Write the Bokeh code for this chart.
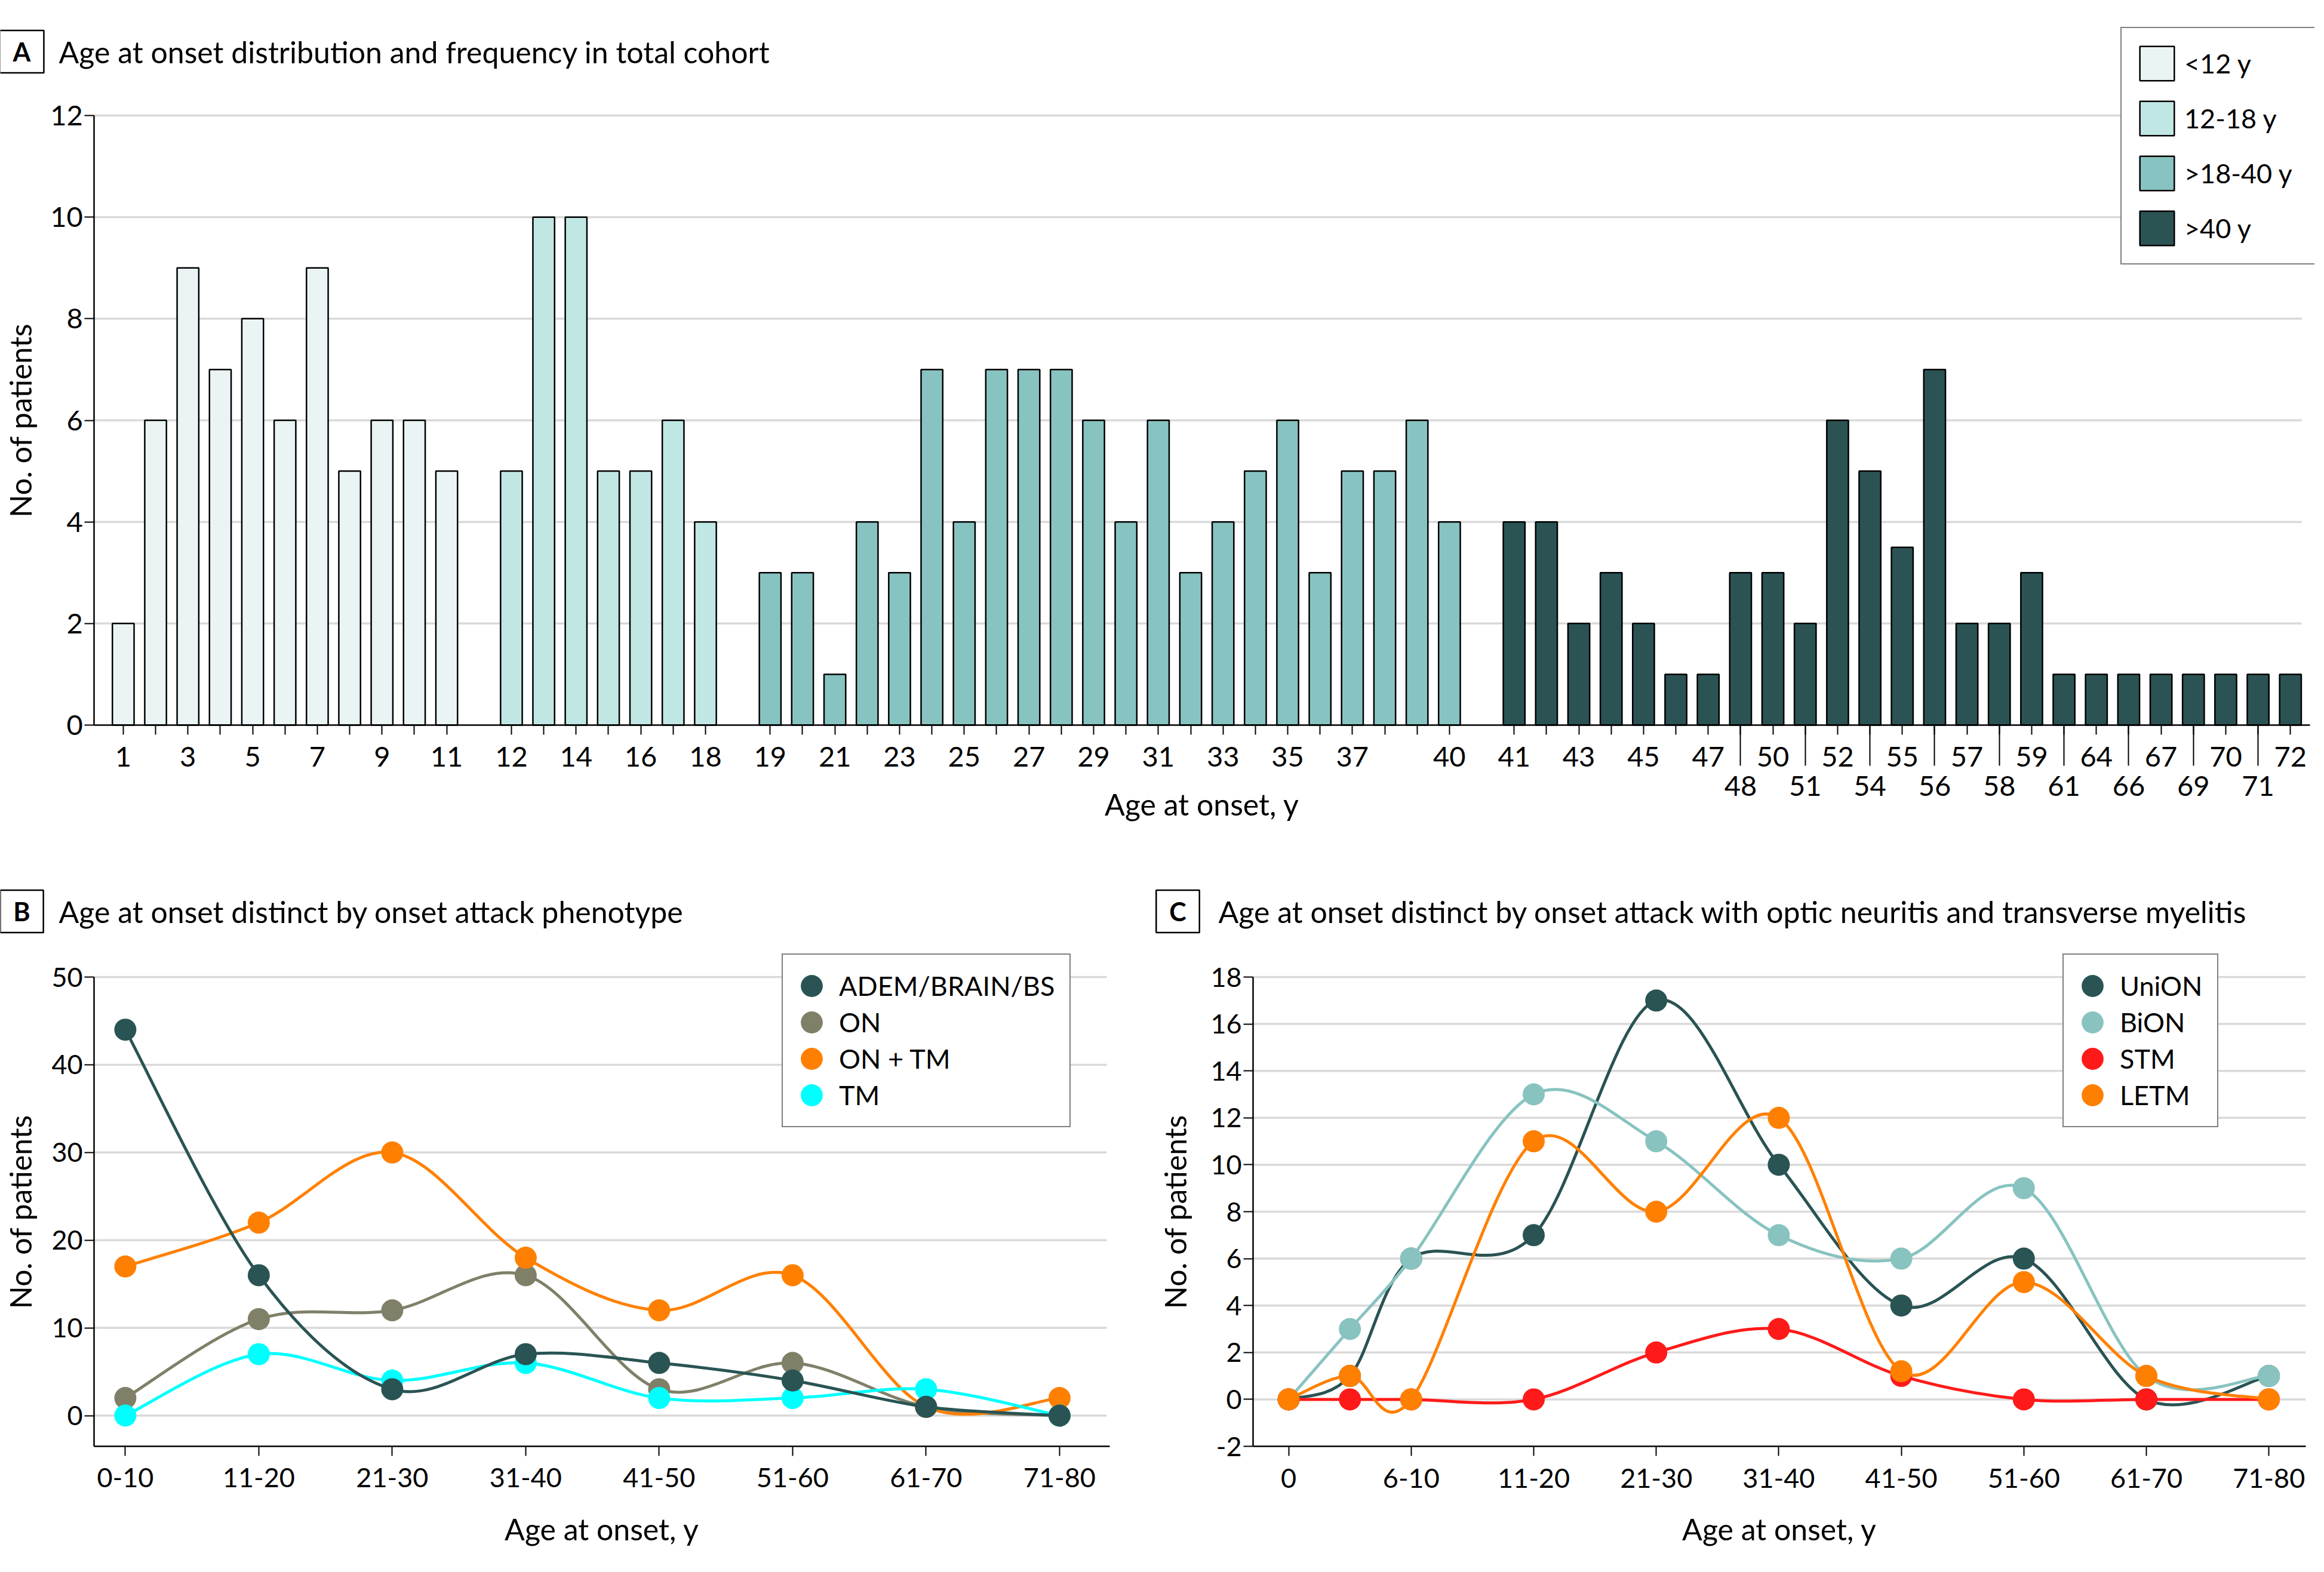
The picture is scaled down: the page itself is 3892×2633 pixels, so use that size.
from bokeh.plotting import figure
from bokeh.models import Range1d, FixedTicker, LinearAxis, Legend, LegendItem, Label
from bokeh.layouts import column, row
from bokeh.embed import file_html
from bokeh.resources import INLINE

FONT = "Lato"

# ---------------- Panel A data ----------------
group_names = ["<12 y", "12-18 y", ">18-40 y", ">40 y"]
group_colors = ["#eaf4f4", "#c1e7e5", "#87c3c1", "#2b5354"]
ages_lt12 = [1, 2, 3, 4, 5, 6, 7, 8, 9, 10, 11]
counts_lt12 = [2, 6, 9, 7, 8, 6, 9, 5, 6, 6, 5]
ages_12_18 = [12, 13, 14, 15, 16, 17, 18]
counts_12_18 = [5, 10, 10, 5, 5, 6, 4]
ages_18_40 = [19, 20, 21, 22, 23, 24, 25, 26, 27, 28, 29, 30, 31, 32, 33, 34, 35, 36, 37, 38, 39, 40]
counts_18_40 = [3, 3, 1, 4, 3, 7, 4, 7, 7, 7, 6, 4, 6, 3, 4, 5, 6, 3, 5, 5, 6, 4]
ages_gt40 = [41, 42, 43, 44, 45, 46, 47, 48, 50, 51, 52, 54, 55, 56, 57, 58, 59, 61, 64, 66, 67, 69, 70, 71, 72]
counts_gt40 = [4, 4, 2, 3, 2, 1, 1, 3, 3, 2, 6, 5, 3.5, 7, 2, 2, 3, 1, 1, 1, 1, 1, 1, 1, 1]
top_row_ages = [1, 3, 5, 7, 9, 11, 12, 14, 16, 18, 19, 21, 23, 25, 27, 29, 31, 33, 35, 37, 40,
                41, 43, 45, 47, 50, 52, 55, 57, 59, 64, 67, 70, 72]
bottom_row_ages = [48, 51, 54, 56, 58, 61, 66, 69, 71]
a_yticks = [0, 2, 4, 6, 8, 10, 12]

# ---------------- Panel B data ----------------
b_labels = ["0-10", "11-20", "21-30", "31-40", "41-50", "51-60", "61-70", "71-80"]
b_adem = [44, 16, 3, 7, 6, 4, 1, 0]
b_on = [2, 11, 12, 16, 3, 6, 1, 0]
b_ontm = [17, 22, 30, 18, 12, 16, 1, 2]
b_tm = [0, 7, 4, 6, 2, 2, 3, 0]
b_yticks = [0, 10, 20, 30, 40, 50]

# ---------------- Panel C data ----------------
c_x = [0, 0.5, 1, 2, 3, 4, 5, 6, 7, 8]
c_tick_pos = [0, 1, 2, 3, 4, 5, 6, 7, 8]
c_tick_labels = ["0", "6-10", "11-20", "21-30", "31-40", "41-50", "51-60", "61-70", "71-80"]
c_union = [0, 1, 6, 7, 17, 10, 4, 6, 0, 1]
c_bion = [0, 3, 6, 13, 11, 7, 6, 9, 1, 1]
c_stm = [0, 0, 0, 0, 2, 3, 1, 0, 0, 0]
c_letm = [0, 1, 0, 11, 8, 12, 1.2, 5, 1, 0]
c_yticks = [-2, 0, 2, 4, 6, 8, 10, 12, 14, 16, 18]

GRID = "#d9d9d9"


def style_axis(ax, tick_size, label_size):
    ax.axis_line_color = "black"
    ax.axis_line_width = 2.5
    ax.major_tick_line_color = "black"
    ax.major_tick_line_width = 2
    ax.minor_tick_line_color = None
    ax.major_label_text_font = FONT
    ax.major_label_text_font_size = f"{tick_size}px"
    ax.major_label_text_color = "black"
    ax.axis_label_text_font = FONT
    ax.axis_label_text_font_size = f"{label_size}px"
    ax.axis_label_text_font_style = "normal"
    ax.axis_label_text_color = "black"


def panel_title(p, letter, text, box_x, text_x, y, size):
    p.add_layout(Label(x=box_x, y=y, x_units="screen", y_units="screen", text=letter,
                       text_font=FONT, text_font_size="43px", text_font_style="bold",
                       text_align="center", text_baseline="middle", text_color="black",
                       border_line_color="black", border_line_width=2.5,
                       background_fill_color="white", padding=(22, 10)))
    p.add_layout(Label(x=text_x, y=y, x_units="screen", y_units="screen", text=text,
                       text_font=FONT, text_font_size=size, text_align="left",
                       text_baseline="middle", text_color="black"))


def catmull_rom(xs, ys):
    n = len(xs)
    d = dict(x0=[], y0=[], x1=[], y1=[], cx0=[], cy0=[], cx1=[], cy1=[])
    for i in range(n - 1):
        xp, yp = (xs[i - 1], ys[i - 1]) if i > 0 else (xs[i], ys[i])
        xn, yn = (xs[i + 2], ys[i + 2]) if i + 2 < n else (xs[i + 1], ys[i + 1])
        d["x0"].append(xs[i]); d["y0"].append(ys[i])
        d["x1"].append(xs[i + 1]); d["y1"].append(ys[i + 1])
        d["cx0"].append(xs[i] + (xs[i + 1] - xp) / 6.0)
        d["cy0"].append(ys[i] + (ys[i + 1] - yp) / 6.0)
        d["cx1"].append(xs[i + 1] - (xn - xs[i]) / 6.0)
        d["cy1"].append(ys[i + 1] - (yn - ys[i]) / 6.0)
    return d


def make_fig(width, height, x0_px, x_unit_px, y0_px, y_unit_px):
    """Figure whose frame fills the whole canvas; x0_px/y0_px = pixel position
    (from left / from top of the figure) of data value 0."""
    xr = Range1d(-x0_px / x_unit_px, (width - x0_px) / x_unit_px)
    yr = Range1d(-(height - y0_px) / y_unit_px, y0_px / y_unit_px)
    p = figure(width=width, height=height, x_range=xr, y_range=yr,
               output_backend="svg", toolbar_location=None,
               min_border_left=0, min_border_right=0, min_border_top=0, min_border_bottom=0)
    p.outline_line_color = None
    p.background_fill_color = "white"
    p.border_fill_color = "white"
    p.xgrid.visible = False
    p.ygrid.visible = False
    return p


def grid_lines(p, ticks, x_start, x_end, width):
    p.segment(x0=[x_start] * len(ticks), x1=[x_end] * len(ticks), y0=ticks, y1=ticks,
              line_color=GRID, line_width=width, level="underlay")


# ================= Panel A =================
ages_groups = [ages_lt12, ages_12_18, ages_18_40, ages_gt40]
count_groups = [counts_lt12, counts_12_18, counts_18_40, counts_gt40]
pos_groups = []
cursor = 0
for ages in ages_groups:
    pos_groups.append(list(range(cursor, cursor + len(ages))))
    cursor += len(ages) + 1
age_to_pos = {a: ps for ages, pss in zip(ages_groups, pos_groups) for a, ps in zip(ages, pss)}
all_pos = [ps for pss in pos_groups for ps in pss]

pA = make_fig(3876, 1448, 205.9, 54.17, 1214, 85.08)
a_xmin, a_xmax = -0.9, 67.6
grid_lines(pA, a_yticks[1:], a_xmin, 67.35, 3.5)

a_items = []
for name, color, pss, counts in zip(group_names, group_colors, pos_groups, count_groups):
    r = pA.vbar(x=pss, top=counts, bottom=0, width=0.67, fill_color=color,
                line_color="black", line_width=2.5)
    a_items.append(LegendItem(label=name, renderers=[r]))

pA.xaxis.visible = False
ax1 = LinearAxis(ticker=FixedTicker(ticks=all_pos), fixed_location=0, bounds=(a_xmin, a_xmax),
                 major_label_overrides={age_to_pos[a]: (str(a) if a in top_row_ages else "")
                                        for a in age_to_pos})
style_axis(ax1, 47, 50)
ax1.major_tick_out = 16
ax1.major_tick_in = 0
ax1.major_label_standoff = 20
pA.add_layout(ax1, "below")

ax2 = LinearAxis(ticker=FixedTicker(ticks=[age_to_pos[a] for a in bottom_row_ages]),
                 fixed_location=0, bounds=(a_xmin, a_xmax),
                 major_label_overrides={age_to_pos[a]: str(a) for a in bottom_row_ages},
                 axis_label="Age at onset, y")
style_axis(ax2, 47, 50)
ax2.axis_line_color = None
ax2.major_tick_in = 0
ax2.major_tick_out = 68
ax2.major_label_standoff = 17
ax2.axis_label_standoff = -19
pA.add_layout(ax2, "below")

ya = pA.yaxis[0]
style_axis(ya, 47, 50)
ya.fixed_location = a_xmin
ya.bounds = (0, 12)
ya.ticker = FixedTicker(ticks=a_yticks)
ya.major_tick_out = 16
ya.major_tick_in = 0
ya.major_label_standoff = 3
ya.axis_label = "No. of patients"
ya.axis_label_standoff = 17

legA = Legend(items=a_items, location=(3551, 1005), glyph_width=72, glyph_height=72,
              spacing=20, padding=23, label_standoff=10, label_width=197,
              label_text_font=FONT, label_text_font_size="45px", label_text_color="black",
              border_line_color="black", border_line_width=2.5,
              background_fill_color="white", background_fill_alpha=1, margin=0)
pA.add_layout(legA)
panel_title(pA, "A", "Age at onset distribution and frequency in total cohort", 36, 98, 1362, "50px")


# ================= Panels B / C helpers =================
def style_line_axes(p, x_at, y_at, xb, yb, xticks, xlabels, yticks, ylab_standoff):
    xa = p.xaxis[0]
    ya = p.yaxis[0]
    style_axis(xa, 45, 50)
    style_axis(ya, 45, 50)
    xa.fixed_location = y_at
    xa.bounds = xb
    xa.ticker = FixedTicker(ticks=xticks)
    xa.major_label_overrides = {t: l for t, l in zip(xticks, xlabels)}
    xa.major_tick_out = 16
    xa.major_tick_in = 0
    xa.major_label_standoff = 21
    xa.axis_label = "Age at onset, y"
    xa.axis_label_standoff = 36
    ya.fixed_location = x_at
    ya.bounds = yb
    ya.ticker = FixedTicker(ticks=yticks)
    ya.major_label_overrides = {t: str(t) for t in yticks}
    ya.major_tick_out = 16
    ya.major_tick_in = 0
    ya.major_label_standoff = 3
    ya.axis_label = "No. of patients"
    ya.axis_label_standoff = ylab_standoff


def line_legend(p, items, loc, label_width):
    leg = Legend(items=items, location=loc, glyph_width=46, glyph_height=46, label_height=54,
                 spacing=7, padding=25, label_standoff=23, label_width=label_width,
                 label_text_font=FONT, label_text_font_size="45px", label_text_color="black",
                 border_line_color="black", border_line_width=2,
                 background_fill_color="white", background_fill_alpha=1, margin=0)
    p.add_layout(leg)


# ================= Panel B =================
pB = make_fig(1922, 1177, 209.4, 223.5, 922.5, 14.69)
b_x = list(range(len(b_labels)))
grid_lines(pB, b_yticks, -0.234, 7.354, 3.5)
style_line_axes(pB, -0.234, -3.5, (-0.234, 7.376), (-3.5, 50), b_x, b_labels, b_yticks, 19)
b_series = {
    "ADEM/BRAIN/BS": (b_adem, "#2a5454"),
    "ON": (b_on, "#808069"),
    "ON + TM": (b_ontm, "#ff8000"),
    "TM": (b_tm, "#00ffff"),
}
b_draw_order = ["ON", "ON + TM", "TM", "ADEM/BRAIN/BS"]
b_legend_order = ["ADEM/BRAIN/BS", "ON", "ON + TM", "TM"]
b_marks = {}
for name in b_draw_order:
    vals, color = b_series[name]
    pB.bezier(line_color=color, line_width=5, **catmull_rom(b_x, vals))
    b_marks[name] = pB.ellipse(x=b_x, y=vals, width=37, height=37, width_units="screen",
                               height_units="screen", fill_color=color, line_color=None)
line_legend(pB, [LegendItem(label=n, renderers=[b_marks[n]]) for n in b_legend_order],
            (1309, 737), 356)
panel_title(pB, "B", "Age at onset distinct by onset attack phenotype", 36, 98, 1099, "50px")

# ================= Panel C =================
pC = make_fig(1954, 1177, 235.6, 205.2, 895.4, 39.3)
grid_lines(pC, c_yticks[1:], -0.29, 8.30, 3.5)
style_line_axes(pC, -0.29, -2, (-0.29, 8.30), (-2, 18), c_tick_pos, c_tick_labels, c_yticks, 26)
c_series = {
    "UniON": (c_union, "#2a5353"),
    "BiON": (c_bion, "#88c3c0"),
    "STM": (c_stm, "#ff1a1a"),
    "LETM": (c_letm, "#ff8000"),
}
c_order = ["UniON", "BiON", "STM", "LETM"]
c_marks = {}
for name in c_order:
    vals, color = c_series[name]
    pC.bezier(line_color=color, line_width=5, **catmull_rom(c_x, vals))
    c_marks[name] = pC.ellipse(x=c_x, y=vals, width=37, height=37, width_units="screen",
                               height_units="screen", fill_color=color, line_color=None)
line_legend(pC, [LegendItem(label=n, renderers=[c_marks[n]]) for n in c_order],
            (1532, 737), 135)
panel_title(pC, "C", "Age at onset distinct by onset attack with optic neuritis and transverse myelitis",
            50, 118, 1099, "50px")

layout = column(pA, row(pB, pC))
open("out.html", "w").write(file_html(layout, INLINE))
